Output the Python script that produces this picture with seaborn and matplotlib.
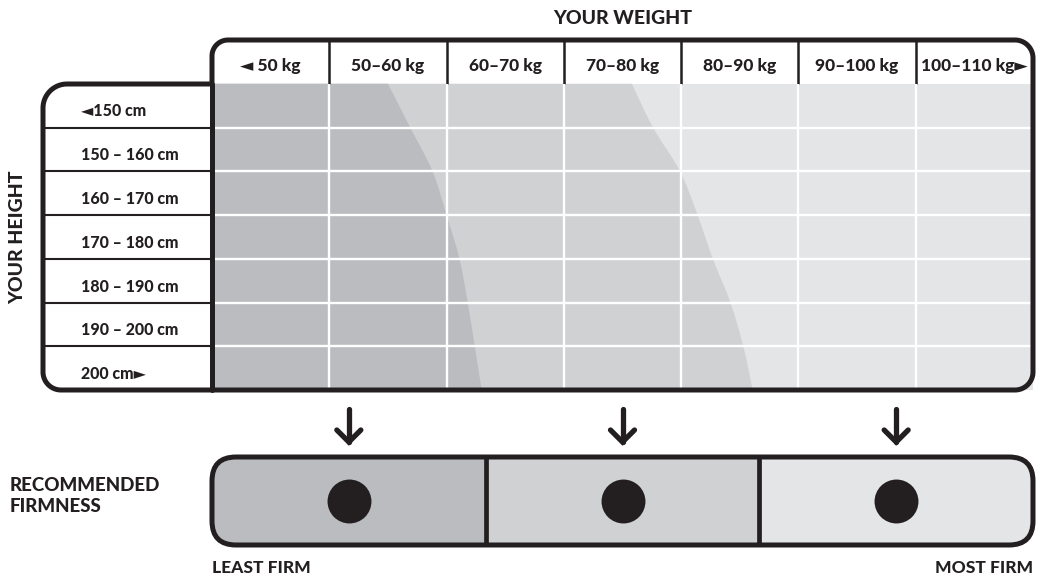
import numpy as np
import matplotlib
matplotlib.use("Agg")
import matplotlib.pyplot as plt
import seaborn as sns
import pandas as pd
from matplotlib.patches import FancyBboxPatch, Polygon, PathPatch
from matplotlib.path import Path

# ---------------- data ----------------
weight_labels = ["◄ 50 kg", "50–60 kg", "60–70 kg", "70–80 kg",
                 "80–90 kg", "90–100 kg", "100–110 kg►"]
height_labels = ["◄150 cm", "150 – 160 cm", "160 – 170 cm", "170 – 180 cm",
                 "180 – 190 cm", "190 – 200 cm", "200 cm►"]
# zone boundaries (in weight-column units) read at each height row line, top to bottom
row_lines = [0, 1, 2, 3, 4, 5, 6, 7]
soft_medium_boundary = [1.50, 1.69, 1.88, 2.00, 2.11, 2.18, 2.24, 2.30]
medium_firm_boundary = [3.58, 3.76, 3.99, 4.14, 4.27, 4.42, 4.53, 4.61]
firmness_levels = ["Least firm", "Medium", "Most firm"]
firmness_colors = ["#bbbcc0", "#d0d1d3", "#e4e5e7"]

# ---------------- style ----------------
sns.set_theme(style="white")
plt.rcParams["font.family"] = ["Lato", "DejaVu Sans"]
INK = "#231f20"
FW = "black"
W, H = 1038, 581

fig = plt.figure(figsize=(W / 100, H / 100), dpi=100)
fig.patch.set_facecolor("white")

# layout (pixels)
BOX_L, GRID_L, GRID_R = 43, 212, 1033
TOP, HEAD_B, BOT = 40, 84, 390
ncol, nrow = len(weight_labels), len(height_labels)
col_px = (GRID_R - GRID_L) / ncol
left_w = (GRID_L - BOX_L) / col_px

# ---------------- main grid axes ----------------
ax = fig.add_axes([BOX_L / W, 1 - BOT / H, (GRID_R - BOX_L) / W, (BOT - TOP) / H])
ax.set_xlim(-left_w, ncol)
ax.set_ylim(nrow, -1)
ax.axis("off")


def zone_left_of(xs, ys):
    """Closed region from the left edge to a smooth curve through (xs, ys)."""
    P = np.column_stack([xs, ys]).astype(float)
    n = len(P)
    verts = [(0, ys[0]), tuple(P[0])]
    codes = [Path.MOVETO, Path.LINETO]
    for i in range(n - 1):
        p0 = P[max(i - 1, 0)]
        p1, p2 = P[i], P[i + 1]
        p3 = P[min(i + 2, n - 1)]
        c1 = p1 + (p2 - p0) / 6
        c2 = p2 - (p3 - p1) / 6
        verts += [tuple(c1), tuple(c2), tuple(p2)]
        codes += [Path.CURVE4] * 3
    verts += [(0, ys[-1]), (0, ys[0])]
    codes += [Path.LINETO, Path.CLOSEPOLY]
    return Path(verts, codes)


ax.fill_betweenx(row_lines, 0, ncol, color=firmness_colors[2], lw=0)
ax.add_patch(PathPatch(zone_left_of(medium_firm_boundary, row_lines),
                       fc=firmness_colors[1], lw=0))
ax.add_patch(PathPatch(zone_left_of(soft_medium_boundary, row_lines),
                       fc=firmness_colors[0], lw=0))

# white grid lines
ax.vlines(np.arange(1, ncol), 0, nrow, color="white", lw=1.7, zorder=3)
ax.hlines(np.arange(1, nrow), 0, ncol, color="white", lw=1.7, zorder=3)
# header separators and left-box separators
ax.vlines(np.arange(1, ncol), -1, 0, color=INK, lw=1.8)
ax.hlines(np.arange(1, nrow), -left_w, 0, color=INK, lw=1.5)

for i, lab in enumerate(weight_labels):
    ax.text(i + 0.5, -0.45, lab, ha="center", va="center_baseline",
            fontsize=12.5, fontweight=FW, color=INK)
for j, lab in enumerate(height_labels):
    ax.text(-left_w + (81 - BOX_L) / col_px, j + 0.6, lab, ha="left",
            va="center_baseline", fontsize=11.5, fontweight=FW, color=INK)

# ---------------- firmness bar ----------------
BAR_T, BAR_B = 457, 545
axf = fig.add_axes([GRID_L / W, 1 - BAR_B / H, (GRID_R - GRID_L) / W, (BAR_B - BAR_T) / H])
axf.set_xlim(0, len(firmness_levels))
axf.set_ylim(0, 1)
axf.axis("off")
bars = axf.bar(np.arange(len(firmness_levels)), [1] * len(firmness_levels), width=1,
               align="edge", color=firmness_colors, lw=0)
axf.vlines(np.arange(1, len(firmness_levels)), 0, 1, color=INK, lw=3.4)
dots = pd.DataFrame({"level": firmness_levels,
                     "pos": np.arange(len(firmness_levels)) + 0.5,
                     "y": [0.5] * len(firmness_levels)})
sns.scatterplot(data=dots, x="pos", y="y", ax=axf, s=1000, color=INK,
                linewidth=0, legend=False, zorder=5, clip_on=False)

# ---------------- overlay (pixel coordinates) ----------------
ov = fig.add_axes([0, 0, 1, 1], zorder=10)
ov.set_xlim(0, W)
ov.set_ylim(H, 0)
ov.axis("off")
ov.patch.set_alpha(0)


def arc(cx, cy, r, a0, a1, n=20):
    t = np.radians(np.linspace(a0, a1, n))
    return np.column_stack([cx + r * np.cos(t), cy + r * np.sin(t)])


rL, rH, rT, rB = 24, 16, 18, 18
pts = np.vstack([
    arc(BOX_L + rL, HEAD_B + rL, rL, 180, 270),
    [[GRID_L, HEAD_B]],
    arc(GRID_L + rH, TOP + rH, rH, 180, 270),
    arc(GRID_R - rT, TOP + rT, rT, 270, 360),
    arc(GRID_R - rB, BOT - rB, rB, 0, 90),
    arc(BOX_L + rB, BOT - rB, rB, 90, 180),
])
ov.add_patch(Polygon(pts, closed=True, fill=False, ec=INK, lw=3.6, joinstyle="round"))
ov.plot([GRID_L, GRID_L], [HEAD_B, BOT], color=INK, lw=3.6)

bar_kw = dict(boxstyle="round,pad=0,rounding_size=24")
clip = FancyBboxPatch((GRID_L, BAR_T), GRID_R - GRID_L, BAR_B - BAR_T,
                      fc="none", ec="none", **bar_kw)
ov.add_patch(clip)
for b in bars:
    b.set_clip_path(clip)
ov.add_patch(FancyBboxPatch((GRID_L, BAR_T), GRID_R - GRID_L, BAR_B - BAR_T,
                            fc="none", ec=INK, lw=3.6, **bar_kw))

# arrows above each firmness level
for k in range(len(firmness_levels)):
    xd = axf.transData.transform((k + 0.5, 0))[0]
    ov.plot([xd, xd], [409, 442], color=INK, lw=3.8, solid_capstyle="round")
    ov.plot([xd - 12, xd, xd + 12], [430, 442, 430], color=INK, lw=3.8,
            solid_capstyle="round", solid_joinstyle="miter")

ov.text((GRID_L + GRID_R) / 2, 18, "YOUR WEIGHT", ha="center", va="center",
        fontsize=14, fontweight=FW, color=INK)
ov.text(18, (HEAD_B + BOT) / 2, "YOUR HEIGHT", ha="center", va="center",
        rotation=90, fontsize=14, fontweight=FW, color=INK)
ov.text(10, 496, "RECOMMENDED\nFIRMNESS", ha="left", va="center",
        fontsize=13.5, fontweight=FW, color=INK, linespacing=1.35)
ov.text(GRID_L, 568, "LEAST FIRM", ha="left", va="center",
        fontsize=12.5, fontweight=FW, color=INK)
ov.text(GRID_R, 568, "MOST FIRM", ha="right", va="center",
        fontsize=12.5, fontweight=FW, color=INK)

fig.savefig("out.png", dpi=100)
